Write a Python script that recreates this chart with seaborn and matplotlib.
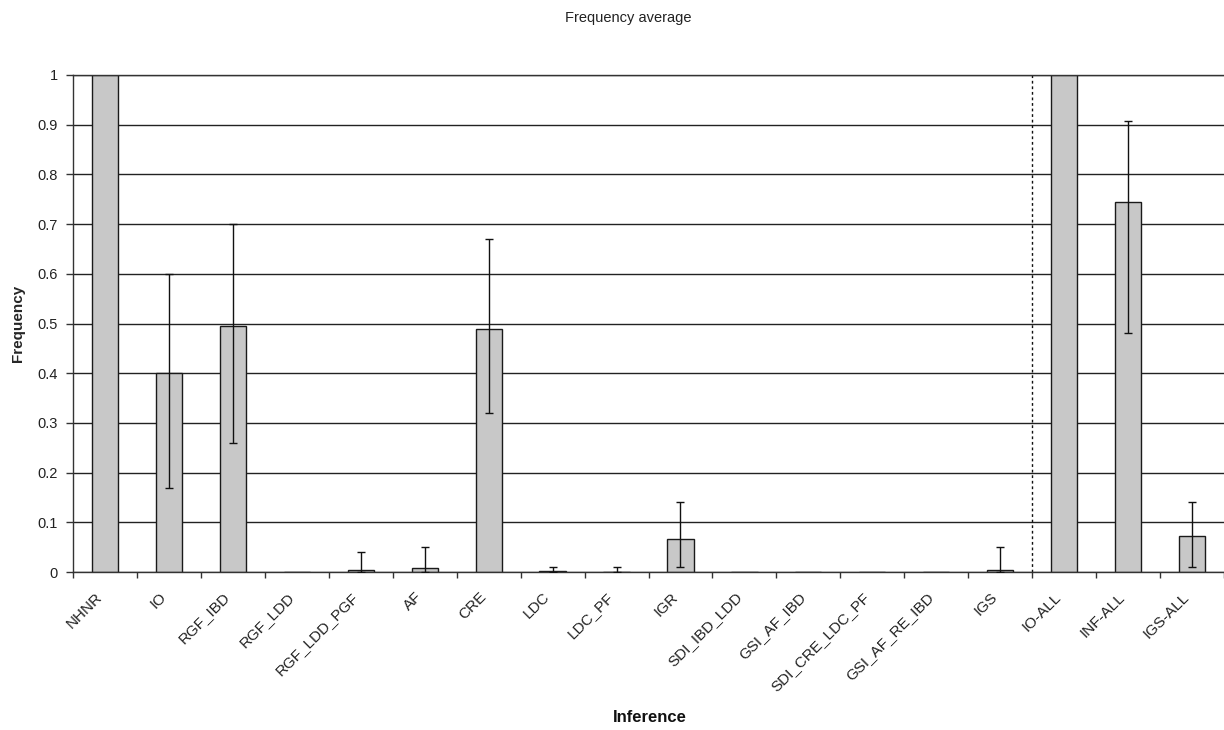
import matplotlib
matplotlib.use("Agg")
import matplotlib.pyplot as plt
import matplotlib.transforms as mtransforms
import seaborn as sns
import pandas as pd
import numpy as np

# Inference categories and their average frequencies
categories = ["NHNR", "IO", "RGF_IBD", "RGF_LDD", "RGF_LDD_PGF", "AF", "CRE",
              "LDC", "LDC_PF", "IGR", "SDI_IBD_LDD", "GSI_AF_IBD",
              "SDI_CRE_LDC_PF", "GSI_AF_RE_IBD", "IGS", "IO-ALL", "INF-ALL",
              "IGS-ALL"]
frequency = [1.0, 0.40, 0.495, 0.0, 0.005, 0.009, 0.488, 0.003, 0.0, 0.066,
             0.0, 0.0, 0.0, 0.0, 0.005, 1.0, 0.745, 0.072]
# lower and upper ends of the error bars
err_low = [1.0, 0.17, 0.26, 0.0, 0.0, 0.0, 0.32, 0.0, 0.0, 0.011,
           0.0, 0.0, 0.0, 0.0, 0.0, 1.0, 0.48, 0.011]
err_high = [1.0, 0.60, 0.70, 0.0, 0.04, 0.05, 0.67, 0.011, 0.011, 0.14,
            0.0, 0.0, 0.0, 0.0, 0.05, 1.0, 0.908, 0.141]
yticks = [0, 0.1, 0.2, 0.3, 0.4, 0.5, 0.6, 0.7, 0.8, 0.9, 1]
ytick_labels = ["0", "0.1", "0.2", "0.3", "0.4", "0.5", "0.6", "0.7", "0.8", "0.9", "1"]

df = pd.DataFrame({"Inference": categories, "Frequency": frequency})

sns.set_theme(style="white")
plt.rcParams["font.family"] = ["Liberation Sans", "DejaVu Sans"]

fig = plt.figure(figsize=(12.24, 7.30), dpi=100)
ax = fig.add_axes([73 / 1224, 1 - 572 / 730, 1 - 73 / 1224, (572 - 75) / 730])

# horizontal gridlines behind the bars
ax.set_axisbelow(True)
ax.yaxis.grid(True, color="#222222", linewidth=1.0)
ax.xaxis.grid(False)

sns.barplot(data=df, x="Inference", y="Frequency", ax=ax, color="#c8c8c8",
            edgecolor="#1a1a1a", linewidth=1.0, width=0.41, saturation=1,
            errorbar=None, zorder=2)

x = np.arange(len(categories))
f = np.array(frequency)
lo = f - np.array(err_low)
hi = np.array(err_high) - f
has_err = (lo > 0) | (hi > 0)
ax.errorbar(x[has_err], f[has_err], yerr=[lo[has_err], hi[has_err]], fmt="none",
            ecolor="#111111", elinewidth=1.0, capsize=3.0, capthick=1.0, zorder=3)

# separator between the individual inferences and the grouped ones
ax.axvline(14.5, ymin=0, ymax=1, color="#111111", linestyle=(0, (2, 2)),
           linewidth=1.0, zorder=1)

ax.set_xlim(-0.5, len(categories) - 0.5)
ax.set_ylim(0, 1)
ax.set_yticks(yticks)
ax.set_yticklabels(ytick_labels, fontsize=10.5, color="#222222")

ax.set_xticks(x)
ax.set_xticklabels(categories, rotation=45, ha="right", va="center",
                   rotation_mode="anchor", fontsize=11, color="#222222")
ax.tick_params(axis="x", which="major", length=0, pad=15)
# slide the slanted labels a little along their baseline
shift = mtransforms.ScaledTranslation(-5 / 100, -2 / 100, fig.dpi_scale_trans)
for lbl in ax.get_xticklabels():
    lbl.set_transform(lbl.get_transform() + shift)

ax.set_xticks(np.arange(len(categories) + 1) - 0.5, minor=True)
ax.tick_params(axis="x", which="minor", length=4, width=1.0, color="#333333",
               direction="out", bottom=True)
ax.tick_params(axis="y", which="major", length=5, width=1.0, color="#333333",
               direction="out", left=True, pad=6)

for side in ["left", "bottom", "top"]:
    ax.spines[side].set_visible(True)
    ax.spines[side].set_color("#333333")
    ax.spines[side].set_linewidth(1.0)
ax.spines["right"].set_visible(False)

ax.set_xlabel("")
fig.text(650 / 1224, 1 - 718 / 730, "Inference", ha="center", va="center",
         fontsize=12, fontweight="bold", color="#111111")
ax.set_ylabel("Frequency", fontsize=11, fontweight="bold", labelpad=9)
fig.suptitle("Frequency average", x=0.513, y=0.985, fontsize=10.5, color="#222222")

fig.savefig("out.png", dpi=100)
